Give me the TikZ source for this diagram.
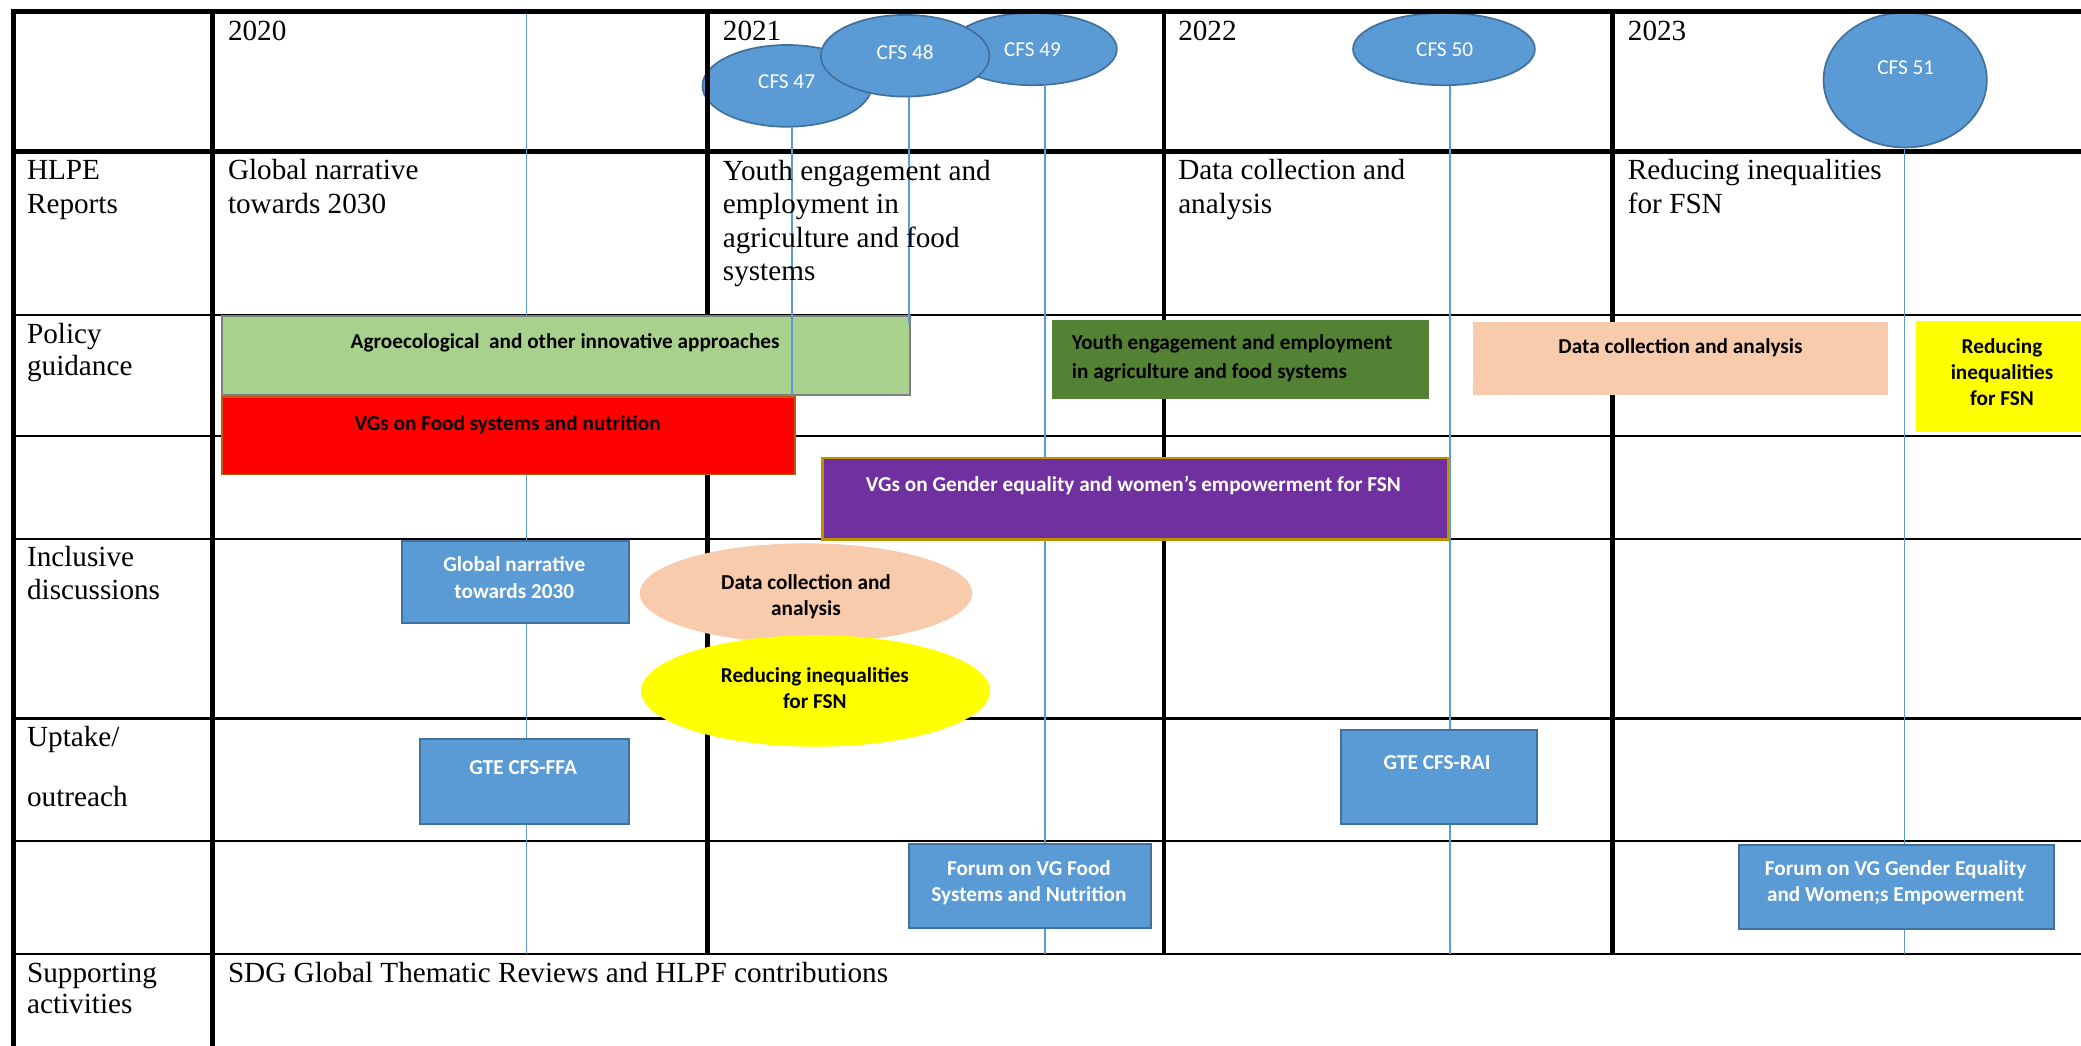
\documentclass[tikz,border=0pt]{standalone}
\usepackage{fontspec}
\setmainfont{Liberation Serif}
\newfontfamily\calfont{Carlito}
\usetikzlibrary{shapes.geometric}
\definecolor{oblue}{HTML}{5B9BD5}
\definecolor{oblued}{HTML}{41719C}
\definecolor{lgreen}{HTML}{A9D18E}
\definecolor{lgray}{HTML}{7F7F7F}
\definecolor{redb}{HTML}{C65911}
\definecolor{purp}{HTML}{7030A0}
\definecolor{gold}{HTML}{BF9000}
\definecolor{dgreen}{HTML}{548235}
\definecolor{peach}{HTML}{F8CBAD}
\definecolor{yell}{HTML}{FFFF00}
\tikzset{
  thickrule/.style={line width=3.5pt, black},
  thinrule/.style={line width=1.6pt, black},
  colrule/.style={line width=3.2pt, black},
  marker/.style={draw=oblue, line width=1pt},
  cfs/.style={ellipse, draw=oblued, line width=1.3pt, fill=oblue, inner sep=0pt},
  cfstext/.style={anchor=base, inner sep=0pt, text=white, font=\calfont\fontsize{16}{19}\selectfont},
  lbl/.style={anchor=base west, inner sep=0pt, align=left, font=\fontsize{22}{25.2}\selectfont},
  bar/.style={rectangle, anchor=north west, inner sep=0pt},
  bluebox/.style={bar, fill=oblue, draw=oblued, line width=1.5pt},
  bt/.style={anchor=base, inner sep=0pt, align=center, font=\calfont\bfseries\fontsize{16}{20}\selectfont},
  wbt/.style={bt, text=white},
}
\begin{document}
\begin{tikzpicture}[x=1pt,y=-1pt]
\path[use as bounding box, clip] (0,0) rectangle (1568,788);
\fill[white] (0,0) rectangle (1568,788);

% CFS sessions (under the table rules)
\node[cfs, minimum width=127.4pt, minimum height=61.6pt] (cfs47) at (593,64.7) {};
\node[cfs, minimum width=127pt, minimum height=54.4pt] (cfs49) at (778,37) {};
\node[cfs, minimum width=127pt, minimum height=61.5pt] (cfs48) at (682,42) {};
\node[cfs, minimum width=137pt, minimum height=54.4pt] (cfs50) at (1088,37) {};
\node[cfs, minimum width=123pt, minimum height=101.6pt] (cfs51) at (1435.5,60.3) {};

% table rules
\draw[thickrule] (8.5,8.8) -- (1568,8.8);
\draw[thickrule] (8.5,114) -- (1568,114);
\foreach \yy in {237.6,328.2,406.4,541.4,633.4,718.5}
  \draw[thinrule] (8.5,\yy) -- (1568,\yy);
\draw[colrule] (10.1,7) -- (10.1,788);
\draw[colrule] (160.2,7) -- (160.2,788);
\foreach \xx in {533,877.2,1215}
  \draw[colrule] (\xx,7) -- (\xx,719.3);

% session markers
\coordinate (m20top) at (396.8,10.5);
\coordinate (m20bot) at (396.8,718.5);
\coordinate (e47) at (596.8,320);
\coordinate (e48) at (685,243);
\coordinate (e49) at (787.4,718.5);
\coordinate (e50) at (1092.5,718.5);
\coordinate (e51) at (1434.8,718.5);
\draw[marker] (m20top) -- (m20bot);
\draw[marker] (e49 |- cfs49.south) -- (e49);
\draw[marker] (e50 |- cfs50.south) -- (e50);
\draw[marker] (e51 |- cfs51.south) -- (e51);

% policy guidance bars
\node[bar, fill=lgreen, draw=lgray, line width=1.4pt, minimum width=518.8pt, minimum height=59.4pt] (agro) at (166.4,237.2) {};
\draw[marker] (e47 |- cfs47.south) -- (e47);
\draw[marker] (e48 |- cfs48.south) -- (e48);
\node[bar, fill=red, draw=redb, line width=1.4pt, minimum width=432.1pt, minimum height=58.2pt] (vgfood) at (166.4,298.6) {};
\node[bar, fill=purp, draw=gold, line width=2pt, minimum width=471.2pt, minimum height=61.6pt] (vggender) at (618.8,344) {};
\node[bar, fill=dgreen, minimum width=284.1pt, minimum height=59.5pt] (youth) at (792.6,241.1) {};
\node[bar, fill=peach, minimum width=312.4pt, minimum height=55pt] (datapg) at (1110,242.6) {};
\node[bar, fill=yell, minimum width=131.3pt, minimum height=83.4pt] (redpg) at (1443.7,241.9) {};

% inclusive discussions
\node[bluebox, minimum width=171.3pt, minimum height=61.4pt] (gnbox) at (302,407) {};
\node[ellipse, fill=peach, inner sep=0pt, minimum width=250.6pt, minimum height=75.2pt] (dataell) at (607.3,447) {};
\node[ellipse, fill=yell, inner sep=0pt, minimum width=263pt, minimum height=84pt] (redell) at (614.5,520.6) {};

% uptake / outreach
\node[bluebox, minimum width=157.9pt, minimum height=64pt] (ffa) at (315.4,556) {};
\node[bluebox, minimum width=182.1pt, minimum height=63.3pt] (forumfood) at (684.4,635.4) {};
\node[bluebox, minimum width=147.7pt, minimum height=71.1pt] (rai) at (1009.3,549.3) {};
\node[bluebox, minimum width=237.4pt, minimum height=63pt] (forumgender) at (1309.6,636) {};

% CFS labels
\node[cfstext] (t47) at (592.7,67) {CFS 47};
\node[cfstext] (t48) at (682,44.7) {CFS 48};
\node[cfstext] (t49) at (778,42.3) {CFS 49};
\node[cfstext] (t50) at (1088.5,42.7) {CFS 50};
\node[cfstext] (t51) at (1436,56.5) {CFS 51};

% years
\node[lbl] (y20) at (171.6,30.6) {2020};
\node[lbl] (y21) at (544.5,30.6) {2021};
\node[lbl] (y22) at (887.6,30.6) {2022};
\node[lbl] (y23) at (1226.4,30.6) {2023};

% row labels (anchored on the baseline of the last line)
\node[lbl] (rhlpe) at (20.2,160.8) {HLPE\\Reports};
\node[lbl, font=\fontsize{22}{24.6}\selectfont] (rpol) at (20.2,283.3) {Policy\\guidance};
\node[lbl] (rinc) at (20.2,452) {Inclusive\\discussions};
\node[lbl] (rupt) at (20.2,607.3) {Uptake/\\[19.5pt]outreach};
\node[lbl, font=\fontsize{22}{23.6}\selectfont] (rsup) at (20.2,764) {Supporting\\activities};

% HLPE reports
\node[lbl] (h20) at (171.6,160.8) {Global narrative\\towards 2030};
\node[lbl] (h21) at (544.5,211.6) {Youth engagement and\\employment in\\agriculture and food\\systems};
\node[lbl] (h22) at (887.6,160.8) {Data collection and\\analysis};
\node[lbl] (h23) at (1226.4,160.8) {Reducing inequalities\\for FSN};
\node[lbl] (sdg) at (171.6,740.4) {SDG Global Thematic Reviews and HLPF contributions};

% texts in shapes (anchored on the baseline of the last line)
\node[bt] (tagro) at (425.8,262.5) {Agroecological\ \ and other innovative approaches};
\node[bt] (tvgfood) at (382.5,324) {VGs on Food systems and nutrition};
\node[wbt] (tvggender) at (854,370.5) {VGs on Gender equality and women’s empowerment for FSN};
\node[bt, anchor=base west, align=left, font=\calfont\bfseries\fontsize{16}{21.3}\selectfont] (tyouth) at (807.5,285) {Youth engagement and employment\\in agriculture and food systems};
\node[bt] (tdatapg) at (1266.2,266.2) {Data collection and analysis};
\node[bt, font=\calfont\bfseries\fontsize{16}{19.6}\selectfont] (tredpg) at (1508.5,305.4) {Reducing\\inequalities\\for FSN};
\node[wbt] (tgn) at (387.5,450.8) {Global narrative\\towards 2030};
\node[bt] (tdataell) at (607.3,464) {Data collection and\\analysis};
\node[bt, font=\calfont\bfseries\fontsize{16}{19.3}\selectfont] (tredell) at (614,533.7) {Reducing inequalities\\for FSN};
\node[wbt] (tffa) at (394.2,583.2) {GTE CFS-FFA};
\node[wbt] (tforumfood) at (775.3,679.4) {Forum on VG Food\\Systems and Nutrition};
\node[wbt] (trai) at (1082.8,579.7) {GTE CFS-RAI};
\node[wbt] (tforumgender) at (1428.3,679.4) {Forum on VG Gender Equality\\and Women;s Empowerment};
\end{tikzpicture}
\end{document}
